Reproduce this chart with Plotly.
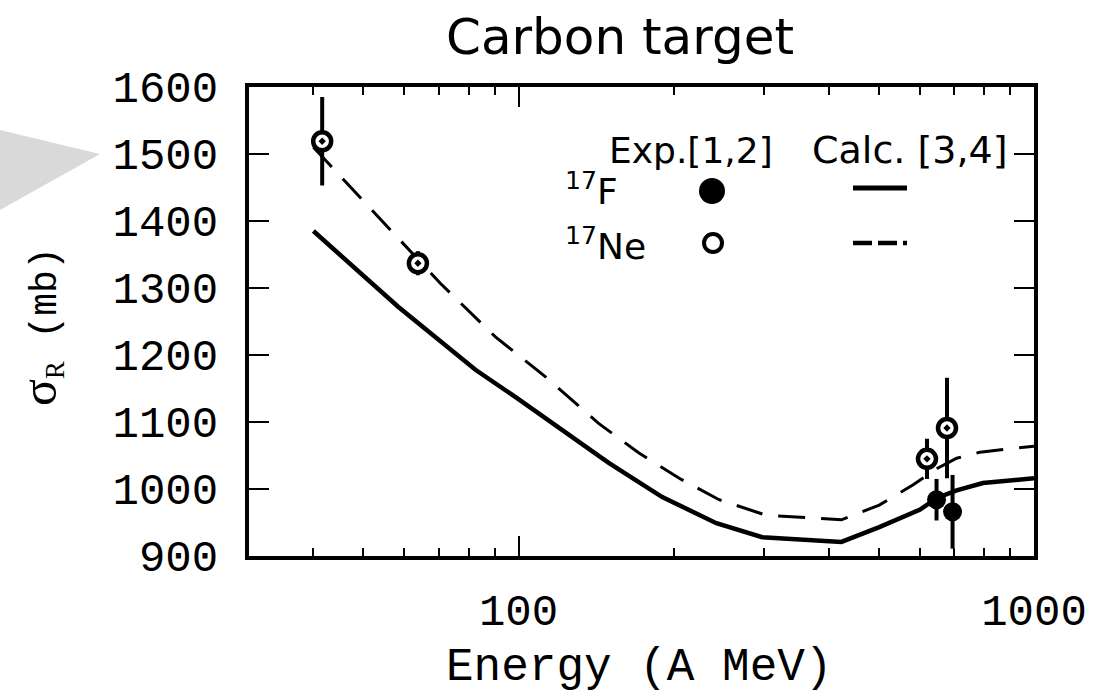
import numpy as np
import plotly.graph_objects as go

# ---- data ----
calc_F_energy = [40, 58.4, 82.5, 98.7, 149.6, 190, 242, 297, 423, 501, 600, 650, 708, 796, 1000]
calc_F_sigma = [1385, 1272, 1178, 1137, 1039, 988, 949, 928, 921, 943, 969, 987, 998, 1009, 1016]

calc_Ne_energy = [40, 70.5, 90.2, 113, 143, 171, 205, 245, 302, 423, 501, 582, 650, 708, 786, 1000]
calc_Ne_sigma = [1510, 1307, 1227, 1167, 1098, 1054, 1016, 984, 961, 954, 976, 1006, 1031, 1046, 1055, 1064]

exp_Ne_energy = [41.6, 63.8, 620, 678]
exp_Ne_sigma = [1519, 1337, 1045, 1091]
exp_Ne_err = [66, 18, 30, 75]

exp_F_energy = [647, 695]
exp_F_sigma = [984, 966]
exp_F_err = [31, 55]

y_ticks = [900, 1000, 1100, 1200, 1300, 1400, 1500, 1600]
x_ticks = [100, 1000]
x_ticklabels = ["100", "1000"]

# ---- figure ----
W, H = 1120, 697
L, R, T, B = 249, 86, 87, 141
pw, ph = W - L - R, H - T - B


def px(xp):
    return (xp - L) / pw


def py(yp):
    return (H - B - yp) / ph


fig = go.Figure()

fig.add_trace(go.Scatter(
    x=calc_F_energy, y=calc_F_sigma, mode="lines",
    line=dict(color="black", width=4.5), showlegend=False, name="17F calc"))
fig.add_trace(go.Scatter(
    x=calc_Ne_energy, y=calc_Ne_sigma, mode="lines",
    line=dict(color="black", width=3, dash="27px,16px"), showlegend=False, name="17Ne calc"))
fig.add_trace(go.Scatter(
    x=exp_F_energy, y=exp_F_sigma, mode="markers",
    marker=dict(symbol="circle", size=19, color="black"),
    error_y=dict(type="data", array=exp_F_err, visible=True, thickness=4, width=0, color="black"),
    showlegend=False, name="17F exp"))
fig.add_trace(go.Scatter(
    x=exp_Ne_energy, y=exp_Ne_sigma, mode="markers",
    marker=dict(symbol="circle-dot", size=18, color="white", line=dict(color="black", width=4.5)),
    error_y=dict(type="data", array=exp_Ne_err, visible=True, thickness=4, width=0, color="black"),
    showlegend=False, name="17Ne exp"))

shapes = [
    # grey arrow on the left
    dict(type="path", xref="paper", yref="paper",
         path=f"M {px(0)},{py(130)} L {px(100)},{py(154)} L {px(0)},{py(210)} Z",
         fillcolor="#d9d9d9", line=dict(width=0), layer="below"),
    # legend markers
    dict(type="circle", xref="paper", yref="paper", xsizemode="pixel", ysizemode="pixel",
         xanchor=px(712), yanchor=py(191), x0=-13, x1=13, y0=-13, y1=13,
         fillcolor="black", line=dict(color="black", width=0)),
    dict(type="circle", xref="paper", yref="paper", xsizemode="pixel", ysizemode="pixel",
         xanchor=px(713), yanchor=py(243), x0=-9, x1=9, y0=-9, y1=9,
         fillcolor="white", line=dict(color="black", width=4)),
    dict(type="line", xref="paper", yref="paper", x0=px(853), x1=px(907), y0=py(188), y1=py(188),
         line=dict(color="black", width=5)),
    dict(type="line", xref="paper", yref="paper", x0=px(853), x1=px(907), y0=py(243), y1=py(243),
         line=dict(color="black", width=4.5, dash="19px,6px")),
]

leg_font = dict(family="DejaVu Sans", size=36, color="black")
annotations = [
    dict(text="Exp.[1,2]", x=px(691), y=py(150), xref="paper", yref="paper",
         xanchor="center", yanchor="middle", showarrow=False, font=leg_font),
    dict(text="Calc. [3,4]", x=px(910), y=py(150), xref="paper", yref="paper",
         xanchor="center", yanchor="middle", showarrow=False,
         font=dict(family="DejaVu Sans", size=38, color="black")),
    dict(text="<sup>17</sup>F", x=px(563), y=py(189), xref="paper", yref="paper",
         xanchor="left", yanchor="middle", showarrow=False, font=leg_font),
    dict(text="<sup>17</sup>Ne", x=px(563), y=py(244), xref="paper", yref="paper",
         xanchor="left", yanchor="middle", showarrow=False, font=leg_font),
    # y axis title
    dict(text='<span style="font-family:Liberation Serif;font-size:50px">σ</span>'
              '<span style="font-family:Liberation Serif">'
              '<sub>R</sub></span>\u00a0(mb)',
         x=px(40), y=py(327), xref="paper", yref="paper", textangle=-90,
         xanchor="center", yanchor="middle", showarrow=False,
         font=dict(family="Liberation Mono", size=38, color="black")),
    # x axis title
    dict(text="Energy (A MeV)", x=px(639), y=py(668), xref="paper", yref="paper",
         xanchor="center", yanchor="middle", showarrow=False,
         font=dict(family="Liberation Mono", size=46, color="black")),
]

fig.update_layout(
    width=W, height=H,
    margin=dict(l=L, r=R, t=T, b=B, autoexpand=False),
    paper_bgcolor="white", plot_bgcolor="white",
    title=dict(text="Carbon target", x=620 / W, xanchor="center", y=1 - 36 / H, yanchor="middle",
               font=dict(family="DejaVu Sans", size=50, color="black")),
    shapes=shapes, annotations=annotations,
    showlegend=False,
)

fig.update_xaxes(
    type="log", range=[np.log10(30), 3],
    tickvals=x_ticks, ticktext=x_ticklabels,
    ticks="inside", ticklen=20, tickwidth=2, tickcolor="black",
    minor=dict(ticks="inside", ticklen=8, tickwidth=2, tickcolor="black", dtick="D1", showgrid=False),
    showline=True, linewidth=4, linecolor="black", mirror="allticks",
    showgrid=False, zeroline=False,
    tickfont=dict(family="Liberation Mono", size=44, color="black"),
    ticklabelstandoff=12,
)
fig.update_yaxes(
    range=[900, 1600], tickvals=y_ticks,
    ticks="inside", ticklen=20, tickwidth=2, tickcolor="black",
    showline=True, linewidth=4, linecolor="black", mirror="allticks",
    showgrid=False, zeroline=False,
    tickfont=dict(family="Liberation Mono", size=44, color="black"),
    ticklabelstandoff=18,
)

fig.write_html("out.html")
